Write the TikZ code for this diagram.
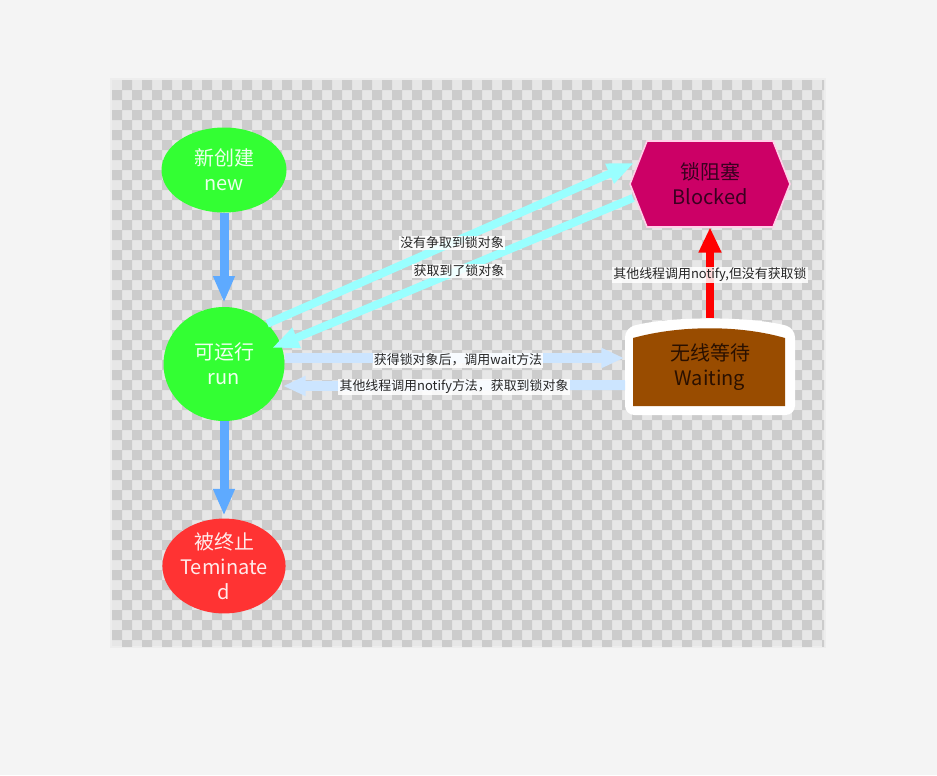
\documentclass[tikz,border=0pt]{standalone}
\usepackage{fontspec}
\setmainfont{Noto Sans CJK SC}
\usetikzlibrary{arrows.meta,shapes.geometric}
\definecolor{pagebg}{HTML}{F4F4F4}
\definecolor{chkl}{HTML}{E7E7E7}
\definecolor{chkd}{HTML}{CCCCCC}
\definecolor{ngreen}{HTML}{33FF33}
\definecolor{nred}{HTML}{FF3333}
\definecolor{bmag}{HTML}{CC0066}
\definecolor{bedge}{HTML}{FFD0E8}
\definecolor{wbrown}{HTML}{994C00}
\definecolor{barrow}{HTML}{5EAAFF}
\definecolor{carrow}{HTML}{99FFFF}
\definecolor{larrow}{HTML}{CCE5FF}
\definecolor{rarrow}{HTML}{FF0000}
\definecolor{btext}{HTML}{3A0020}
\definecolor{wtext}{HTML}{2A1000}
\begin{document}
\begin{tikzpicture}[x=0.75pt,y=-0.75pt,
  statenode/.style={ellipse,inner sep=0pt,align=center,font=\fontsize{15}{18.75}\selectfont},
  boxnode/.style={rectangle,inner sep=0pt,align=center,font=\fontsize{15}{18.75}\selectfont},
  lbl/.style={fill=white,fill opacity=0.85,text opacity=1,inner sep=1pt,font=\fontsize{9.7}{11}\selectfont,text=black!85},
  bluearr/.style={draw=barrow,line width=6.75pt,-{Triangle[length=20pt,width=15pt]}},
  cyanarr/.style={draw=carrow,line width=6pt,-{Triangle[length=20pt,width=15pt]}},
  lightarr/.style={draw=larrow,line width=7.5pt,-{Triangle[length=17pt,width=14pt]}},
  redarr/.style={draw=rarrow,line width=6pt,-{Triangle[length=19pt,width=16pt]}}]
\useasboundingbox (0,0) rectangle (937,775);
\fill[pagebg] (0,0) rectangle (937,775);
\fill[black!7] (110,78) rectangle (826,648);
% checkerboard
\begin{scope}
\clip (112,80) rectangle (824,646);
\fill[chkl] (112,80) rectangle (824,646);
\foreach \j in {0,...,56} {
  \pgfmathtruncatemacro\off{(1-mod(\j,2))*10}
  \fill[chkd] \foreach \i in {0,20,...,720} {(112+\i+\off,80+10*\j) rectangle ++(10,10)};
}
\end{scope}
% shapes
\fill[bmag,draw=bedge,line width=1.2pt] (630,184) -- (647,141) -- (773,141) -- (790,184) -- (773,227) -- (647,227) -- cycle;
\fill[white,rounded corners=7pt] (625,415) -- (625,328) .. controls (670,316) and (750,316) .. (795,328) -- (795,415) -- cycle;
\fill[wbrown] (633,406) -- (633,338) .. controls (680,325) and (740,325) .. (785,338) -- (785,406) -- cycle;
% nodes
\node[statenode,fill=ngreen,text=green!8,minimum width=93.75pt,minimum height=63.75pt] (new) at (224,170) {新创建\\new};
\node[statenode,fill=ngreen,text=green!6,minimum width=90.75pt,minimum height=85.5pt] (run) at (224,364) {可运行\\run};
\node[statenode,fill=nred,text=red!8,minimum width=90.75pt,minimum height=69pt] (term) at (224,566) {被终止\\Teminate\\d};
\node[boxnode,text=btext,minimum width=120pt,minimum height=64.5pt] (blocked) at (710,184) {锁阻塞\\Blocked};
\node[boxnode,text=wtext,minimum width=127.5pt,minimum height=73.5pt] (waiting) at (710,367) {无线等待\\Waiting};
% free ends
\coordinate (bin) at (634,163);
\coordinate (bout) at (633,198);
\coordinate (rin) at (272,348);
\coordinate (win) at (624,358);
\coordinate (wout) at (625,385);
\coordinate (rtip) at (283,386);
% connectors
\draw[bluearr,shorten >=3pt] (new.south) -- (run.north);
\draw[bluearr,shorten >=2pt] (run.south) -- (term.north);
\draw[cyanarr] (run.43) -- (bin);
\draw[cyanarr] (bout) -- (rin);
\draw[lightarr] (run.east |- win) -- (win);
\draw[lightarr] (wout) -- (rtip);
\draw[redarr] (waiting.north) -- (blocked.south);
% labels
\node[lbl] (l1) at (452,243) {没有争取到锁对象};
\node[lbl] (l2) at (459,271) {获取到了锁对象};
\node[lbl] (l3) at (458,360) {获得锁对象后，调用wait方法};
\node[lbl] (l4) at (454,387) {其他线程调用notify方法，获取到锁对象};
\node[lbl] (l5) at (710,275) {其他线程调用notify,但没有获取锁};
\end{tikzpicture}
\end{document}
